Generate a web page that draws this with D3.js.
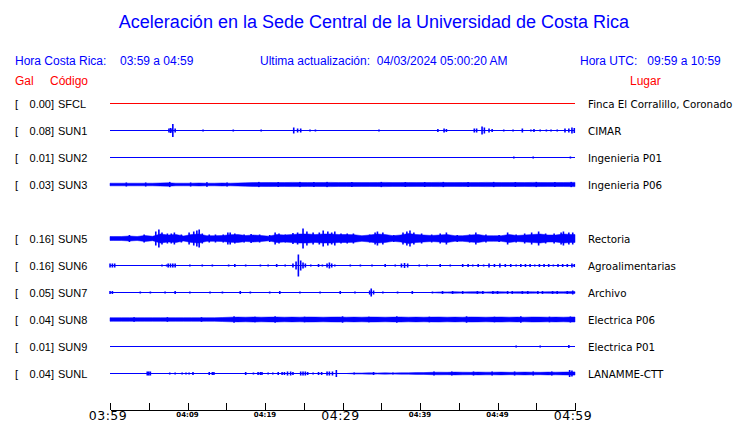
<!DOCTYPE html>
<html>
<head>
<meta charset="utf-8">
<script src="https://cdn.jsdelivr.net/npm/d3@7/dist/d3.min.js"></script>
<style>
  html, body { margin: 0; padding: 0; background: #ffffff; }
  svg { display: block; }
</style>
</head>
<body>
<svg id="chart" width="740" height="423"></svg>
<script>
// ---------------- DATA ----------------
const stations = ["SFCL","SUN1","SUN2","SUN3","SUN4","SUN5","SUN6","SUN7","SUN8","SUN9","SUNL"];
const galValues = [0.00, 0.08, 0.01, 0.03, null, 0.16, 0.16, 0.05, 0.04, 0.01, 0.04];
const places = ["Finca El Corralillo, Coronado","CIMAR","Ingenieria P01","Ingenieria P06",null,
                "Rectoria","Agroalimentarias","Archivo","Electrica P06","Electrica P01","LANAMME-CTT"];
const traceColors = ["red","blue","blue","blue",null,"blue","blue","blue","blue","blue","blue"];

const tickMinutes = [0,5,10,15,20,25,30,35,40,45,50,55,60];
const tickLabels = ["03:59","","04:09","","04:19","","04:29","","04:39","","04:49","","04:59"];
const tickMajor  = [true,false,false,false,false,false,true,false,false,false,false,false,true];

// continuous envelope (half amplitude, one value per minute, 03:59 -> 04:59)
const envSUN3 = [1.3,1.3,1.3,1.3,1.3,1.3,1.5,1.7,1.3,1.3,1.3,1.5,1.3,1.3,1.5,1.3,1.5,1.7,
                 1.9,1.9,2.0,1.9,1.9,2.1,2.0,1.9,1.9,2.0,2.1,1.9,1.9,2.0,1.9,1.9,2.0,2.1,1.9,1.9,2.0,1.9,
                 1.9,2.0,2.1,1.9,1.9,2.0,1.9,1.9,2.1,2.0,1.9,1.9,2.0,1.9,2.1,2.0,1.9,1.9,2.0,2.1];
const envSUN5 = [2,2,2.5,2,3,2.2,4.5,3.5,4,2.5,4,4.5,2.8,2.8,3,3.8,4,3,3.5,3,
                 2.3,4,3.5,4,4.5,4.5,4,4.5,4.5,4,4,3.8,2.8,3.5,4.5,4,2.8,3.5,5,4,
                 3.5,3,3.5,4,2.8,2.8,3.5,4,2.8,2.8,2.8,4,3,3.5,4,4.5,3.5,3.5,4.5,4];
const envSUN8 = [1.8,1.8,1.8,1.8,1.8,1.8,1.8,1.8,1.8,1.8,1.8,1.8,1.8,1.8,2,2.3,2.4,2.3,2.5,2.3,
                 2.4,2.5,2.3,2.4,2.3,2.5,2.4,2.3,2.4,2.5,2.3,2.4,2.3,2.5,2.4,2.3,2.4,2.5,2.3,2.4,
                 2.3,2.4,2.5,2.3,2.4,2.3,2.5,2.4,2.3,2.4,2.5,2.3,2.4,2.3,2.5,2.4,2.3,2.4,2.3,2.5];
const envSUNL = [0,0,0,0,0,0,0,0,0,0,0,0,0,0,0,0,0,0,0,0,
                 0,0,0,0,0,0,0,0,0,0,0,0.5,0.5,0.7,0.5,0.7,0.5,0.7,0.7,0.9,
                 0.9,1.2,1.3,1.2,1.4,1.3,1.2,1.4,1.3,1.3,1.4,1.2,1.3,1.4,1.3,1.2,1.4,1.3,1.4,1.6];
const envSUN7 = [0,0,0,0,0,0,0,0,0,0,0,0,0,0,0,0,0,0,0,0,
                 0,0,0,0,0,0,0,0,0,0,0,0,0,0,0,0,0,0,0,0,
                 0,0,0.6,0.6,0.8,0.6,0.8,0.8,0.6,0.8,0.8,0.6,0.8,0.8,0.8,0.6,0.8,0.8,0.8,0.9];

// impulsive spikes: [minute, half amplitude]
const spkSUN1 = [[7.6,2],[7.8,2.5],[8.0,2],[8.1,6.5],[8.4,2],[12.0,1],[15.9,1],[19.5,1],[23.7,3],[24.2,2],
  [24.6,2],[25.8,1],[26.5,1],[34.7,1],[42.3,1.5],[43.1,2],[43.4,1.5],[47.0,2],[47.3,2],[48.0,4],[48.3,3],
  [48.9,2],[49.3,1.5],[50.8,1],[52.0,1],[53.2,2],[54.3,1],[54.7,1.5],[55.5,1],[56.3,1],[56.9,1],[57.7,1],
  [58.7,2],[59.2,2],[59.6,3],[59.9,2.5]];
const spkSUN2 = [[52.1,1],[54.6,1],[59.4,1]];
const spkSUN3 = [[2.1,2],[4.6,2],[7.7,2.6],[10.4,2],[12.5,2.3],[15.1,2],[19.2,2.6],[21.7,2.5],[24.5,2.6],
  [26.3,2.5],[28,2.6],[31.2,2.5],[35,2.6],[38.1,2.5],[40.6,2.5],[43,2.6],[46.2,2.5],[49.5,2.6],[52.3,2.5],
  [55,2.6],[57.4,2.5],[59.5,2.6]];
const spkSUN5 = [[2.5,3.5],[4.4,4],[5.9,7],[6.3,9],[6.7,6],[7.4,5],[7.9,5],[8.3,6],[9.2,4],[10.2,6],[10.8,7],
  [11.2,8],[11.5,9],[11.9,5],[12.8,4],[13.6,4],[14.6,4],[15.2,6],[15.5,6],[16.1,5],[17.3,4],[18.2,4.5],
  [19.3,4],[20.6,3.5],[21.3,6],[21.8,5],[22.6,4],[23.6,5.5],[24.2,6],[24.9,10],[25.4,7],[26.2,6],[27.0,6],
  [27.5,8],[28.1,7],[28.6,6],[29.0,7],[29.8,5],[30.6,5],[31.4,5],[33.5,4],[34.2,6],[34.5,7],[35.2,6],
  [36.6,3.5],[37.8,6],[38.3,7],[38.7,8],[39.2,6],[40.2,5],[41.5,4],[42.6,5],[43.4,6],[44.8,3.5],[46.4,4],
  [47.2,6],[48.5,4],[50.2,3.5],[51.3,6],[52.4,4],[53.5,5],[54.4,6],[55.3,7],[56.2,5],[57.3,5],[58.2,6],
  [58.5,7],[59.2,6],[59.7,6]];
const spkSUN6 = [[0,2],[0.3,2],[0.6,2],[6.7,1],[7.3,1],[7.5,2],[7.8,2],[8.1,2],[8.4,2],[10.3,1],[11.9,1],
  [13.2,1],[15.3,1],[16.1,1.5],[17.5,1],[19.4,1],[20.4,1],[21.5,1.5],[22.6,1],[23.6,2],[24.0,4],[24.3,11],
  [24.6,5],[24.9,3],[25.2,2],[25.9,1],[26.9,1.5],[27.4,1],[28.0,2],[28.3,3],[28.6,2],[29.0,1],[31.0,1],
  [32.3,1],[33.8,1],[35.5,1.5],[36.8,1],[37.6,2],[38.0,2.5],[38.4,2],[39.9,1],[40.9,1],[42.6,1.5],[43.9,1],
  [45.5,1.5],[46.2,1.5],[46.8,1],[47.5,1.5],[48.2,1],[48.9,2],[49.6,1.5],[50.3,2],[51.0,1.5],[51.7,1.5],
  [52.4,1],[53.0,1.5],[53.6,1.5],[54.2,1.5],[54.8,1],[55.4,1.5],[56.0,1.5],[56.6,1.5],[57.2,1],[57.8,1.5],
  [58.4,1.5],[59.0,1.5],[59.6,2],[59.9,1.5]];
const spkSUN7 = [[0,1.5],[0.3,1.5],[3.9,1],[5.2,1],[7.1,1],[8.4,1.5],[10.3,1],[12.9,1],[14.5,1],[16.8,1.5],
  [18.1,1],[20.6,1],[21.9,1.5],[24.5,1],[27.1,1],[29.7,1.5],[31.6,1],[33.5,2],[33.7,4],[34.0,2],[35.2,1],
  [37.1,1],[39.0,1.5],[41.6,1],[42.9,1.5],[44.2,1.5],[45.5,1.5],[47.4,1.5],[48.1,1.5],[49.4,1.5],[50.0,1.5],
  [51.3,1.5],[51.9,1.5],[53.2,1.5],[53.9,1.5],[55.2,1.5],[55.8,1.5],[57.1,1.5],[57.7,1.5],[59.0,1.5],[59.7,2]];
const spkSUN8 = [[3.1,2.3],[7.4,2.3],[11.8,2.3],[16,3.2],[18.7,2.8],[21.3,3.2],[25.1,2.8],[30,3.2],[33.4,2.8],
  [37,3.2],[41.2,2.8],[46,3.2],[49.6,2.8],[53,3.2],[56.7,2.8],[59.4,3]];
const spkSUN9 = [[52.4,1],[55.5,1],[59.2,1.5]];
const spkSUNL = [[4.8,2],[5.0,2],[5.2,2],[7.7,1],[8.4,1],[9.3,1],[9.8,1],[10.2,1],[10.7,1.5],[12.8,1.5],
  [13.2,1.5],[13.4,1.5],[17.5,1.5],[18.5,1],[19.1,1.5],[19.4,1.5],[19.6,1.5],[20.4,1],[21.0,1],[21.7,1.5],
  [22.2,1.5],[22.5,1.5],[22.9,2],[23.3,2],[23.6,1.5],[24.6,2],[24.9,2],[25.2,2],[25.5,1.5],[26.2,1],
  [26.9,1.5],[27.3,1.5],[28.0,2],[28.3,2],[28.7,2],[29.2,3.5],[31.5,1],[34.0,1.5],[36.5,1],[41.8,2],
  [44.1,2],[46.9,2],[49.3,2],[52.2,2],[54.6,2],[57.0,2],[59.3,3.5],[59.6,3]];

const envelopes = [null, null, null, envSUN3, null, envSUN5, null, envSUN7, envSUN8, null, envSUNL];
const spikes    = [[], spkSUN1, spkSUN2, spkSUN3, [], spkSUN5, spkSUN6, spkSUN7, spkSUN8, spkSUN9, spkSUNL];

// ---------------- CHART ----------------
const svg = d3.select("#chart");
const BLUE = "#0000ff", RED = "#ff0000";
const sans = "'Liberation Sans', Arial, Helvetica, sans-serif";
const dejavu = "'DejaVu Sans', sans-serif";

const x = d3.scaleLinear().domain([0, 60]).range([110, 575]);
const y = d3.scalePoint().domain(stations).range([103, 373]);
const amp = d3.scaleLinear().domain([0, 10]).range([0, 10]);

// title
svg.append("text").attr("x", 374).attr("y", 28).attr("text-anchor", "middle")
  .attr("font-family", sans).attr("font-size", 18).attr("fill", BLUE)
  .text("Aceleración en la Sede Central de la Universidad de Costa Rica");

// header
const hdr = [
  {x: 15, t: "Hora Costa Rica:"}, {x: 120, t: "03:59 a 04:59"},
  {x: 260, t: "Ultima actualización:  04/03/2024 05:00:20 AM"},
  {x: 580, t: "Hora UTC:   09:59 a 10:59"}
];
svg.selectAll("text.hdr").data(hdr).join("text").attr("class","hdr")
  .attr("x", d => d.x).attr("y", 65).attr("font-family", sans).attr("font-size", 12)
  .attr("fill", BLUE).attr("xml:space","preserve").style("white-space","pre").text(d => d.t);

[{x: 15, t: "Gal"}, {x: 50, t: "Código"}, {x: 630, t: "Lugar"}].forEach(d => {
  svg.append("text").attr("x", d.x).attr("y", 85).attr("font-family", sans).attr("font-size", 12)
    .attr("fill", RED).text(d.t);
});

// rows
stations.forEach((s, i) => {
  if (galValues[i] === null) return;
  const cy = Math.round(y(s)) + 0.5;
  const col = traceColors[i] === "red" ? RED : BLUE;
  const g = svg.append("g");

  g.append("text").attr("x", 15).attr("y", cy + 4).attr("font-family", sans).attr("font-size", 11)
    .attr("fill", "#000").text("[");
  g.append("text").attr("x", 54).attr("y", cy + 4).attr("text-anchor", "end").attr("font-family", sans)
    .attr("font-size", 11).attr("fill", "#000").text(galValues[i].toFixed(2) + "]");
  g.append("text").attr("x", 58).attr("y", cy + 4).attr("font-family", sans).attr("font-size", 11)
    .attr("fill", "#000").text(s);
  g.append("text").attr("x", 588).attr("y", cy + 4).attr("font-family", dejavu).attr("font-size", 10.3)
    .attr("fill", "#000").text(places[i]);

  // baseline trace
  g.append("line").attr("x1", x(0)).attr("x2", x(60)).attr("y1", cy).attr("y2", cy)
    .attr("stroke", col).attr("stroke-width", 1).attr("shape-rendering", "crispEdges");

  // envelope
  const env = envelopes[i];
  if (env) {
    const pts = env.map((v, k) => ({t: k + 0.5, v}));
    pts.unshift({t: 0, v: env[0]});
    pts.push({t: 60, v: env[env.length - 1]});
    const area = d3.area().x(d => x(d.t)).y0(d => cy + amp(d.v)).y1(d => cy - amp(d.v))
      .curve(d3.curveLinear);
    g.append("path").datum(pts).attr("d", area).attr("fill", col).attr("stroke", col)
      .attr("stroke-width", 0.5);
  }

  // spikes
  g.selectAll("rect.spk").data(spikes[i]).join("rect").attr("class", "spk")
    .attr("x", d => x(d[0]) - 0.75).attr("width", 1.6)
    .attr("y", d => cy - amp(d[1])).attr("height", d => 2 * amp(d[1]))
    .attr("fill", col);
});

// time axis
const axisG = svg.append("g").attr("transform", "translate(0,409.5)");
axisG.call(d3.axisTop(x).tickValues(tickMinutes).tickSize(7).tickSizeOuter(0).tickFormat(""));
axisG.select(".domain").attr("stroke", "#000").attr("shape-rendering", "crispEdges");
axisG.selectAll(".tick line").attr("stroke", "#000").attr("shape-rendering", "crispEdges");

svg.selectAll("text.tl").data(tickMinutes.map((m, k) => ({m, l: tickLabels[k], big: tickMajor[k]}))
  .filter(d => d.l)).join("text").attr("class", "tl")
  .attr("x", d => x(d.m) - (d.big ? 2 : 0)).attr("y", d => d.big ? 420 : 417)
  .attr("text-anchor", "middle").attr("font-family", dejavu)
  .attr("font-size", d => d.big ? 12.5 : 7).attr("font-weight", d => d.big ? "normal" : "bold")
  .attr("letter-spacing", d => d.big ? 0.5 : 0)
  .attr("fill", "#000").text(d => d.l);
</script>
</body>
</html>
